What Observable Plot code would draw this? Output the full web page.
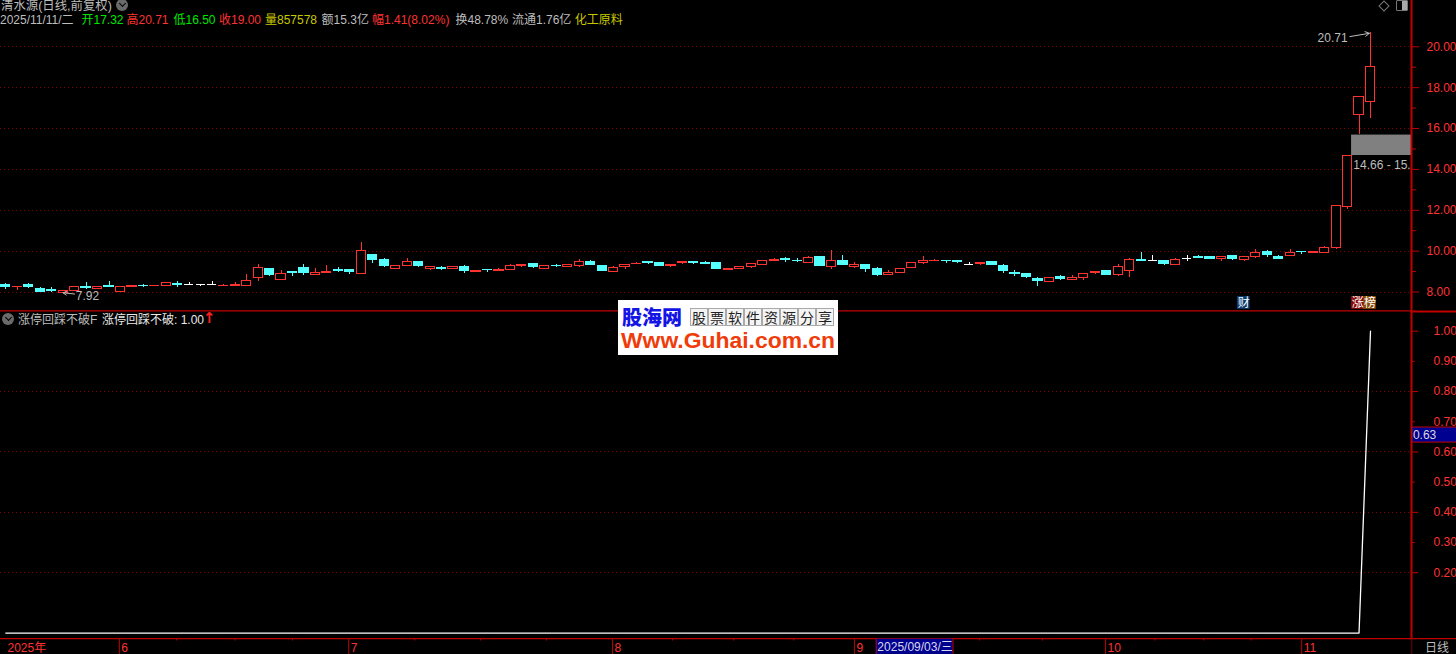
<!DOCTYPE html>
<html><head><meta charset="utf-8">
<script src="https://cdn.jsdelivr.net/npm/d3@7"></script>
<script src="https://cdn.jsdelivr.net/npm/@observablehq/plot@0.6"></script>
<style>
html,body{margin:0;padding:0;background:#000;overflow:hidden}
#stage{position:relative;width:1456px;height:654px;background:#000;overflow:hidden;font-family:"Liberation Sans","Noto Sans CJK SC",sans-serif;font-size:12px}
#stage svg{position:absolute;left:0;display:block}
.t{position:absolute;white-space:pre;line-height:14px;height:14px;font-family:"Liberation Sans","Noto Sans CJK SC",sans-serif;font-size:12px}
.chev{position:absolute;width:12px;height:12px;border-radius:50%;background:#6a6a6a}
.chev:after{content:"";position:absolute;left:3.5px;top:2px;width:4px;height:4px;border-right:1.5px solid #000;border-bottom:1.5px solid #000;transform:rotate(45deg)}
#wm{position:absolute;left:618px;top:300px;width:220px;height:55px;background:#fff;overflow:hidden}
#wm .a{position:absolute;left:4px;top:6px;font:900 20px/21px "Noto Sans CJK SC";color:#1414e6;letter-spacing:0}
#wm .b{position:absolute;left:72px;top:8px;display:flex}
#wm .b span{box-sizing:border-box;width:18px;height:18px;border:1px solid #aaa;margin-right:0;font:14px/16px "Noto Sans CJK SC";color:#222;text-align:center;background:#f4f4f4;overflow:visible}
#wm .c{position:absolute;left:3px;top:29px;font:bold 22.9px/23px "Liberation Sans";color:#f03c0a;letter-spacing:0}
</style></head><body><div id="stage"></div>
<script>
const opens=[8.33,8.23,8.34,8.16,8.11,7.94,8.03,8.23,8.13,8.31,7.98,8.23,8.31,8.29,8.29,8.39,8.37,8.37,8.39,8.29,8.29,8.29,8.68,9.12,8.57,8.98,9.19,8.81,8.91,9.06,9.07,8.88,9.82,9.58,9.15,9.27,9.46,9.15,9.17,9.15,9.22,8.96,9.07,9.01,9.06,9.25,9.38,9.15,9.28,9.20,9.25,9.48,9.28,8.96,9.20,9.35,9.46,9.41,9.25,9.40,9.46,9.41,9.41,9.06,9.15,9.20,9.30,9.50,9.63,9.54,9.41,9.72,9.22,9.51,9.22,9.32,9.14,8.81,8.91,9.17,9.40,9.50,9.53,9.51,9.37,9.35,9.46,9.27,8.94,8.89,8.65,8.49,8.72,8.59,8.69,8.91,9.04,8.82,9.03,9.57,9.52,9.52,9.32,9.63,9.73,9.73,9.60,9.76,9.55,9.70,9.96,9.73,9.75,9.97,9.89,9.89,10.14,12.15,16.68,17.32];
const closes=[8.23,8.26,8.23,7.98,8.03,8.05,8.23,8.20,8.24,8.23,8.24,8.29,8.28,8.31,8.44,8.36,8.37,8.37,8.39,8.31,8.36,8.54,9.17,8.81,8.88,8.91,8.91,8.94,8.98,9.04,8.98,10.00,9.59,9.25,9.27,9.46,9.25,9.24,9.14,9.24,9.01,9.04,9.06,9.09,9.27,9.33,9.20,9.27,9.27,9.32,9.48,9.33,9.01,9.17,9.32,9.38,9.40,9.28,9.33,9.46,9.40,9.35,9.15,9.14,9.24,9.37,9.51,9.58,9.59,9.51,9.67,9.25,9.51,9.30,9.32,9.11,8.81,8.93,9.12,9.41,9.51,9.53,9.50,9.45,9.37,9.41,9.30,9.01,8.88,8.72,8.54,8.68,8.62,8.68,8.86,9.00,8.85,9.22,9.57,9.52,9.52,9.35,9.57,9.63,9.68,9.63,9.71,9.60,9.71,9.91,9.79,9.63,9.91,9.94,9.97,10.15,12.23,14.66,17.56,19.00];
const highs=[8.41,8.26,8.42,8.24,8.24,8.05,8.23,8.46,8.24,8.49,8.29,8.29,8.36,8.31,8.44,8.50,8.46,8.37,8.49,8.39,8.46,8.85,9.37,9.12,9.07,8.98,9.37,9.17,9.28,9.20,9.07,10.42,9.85,9.63,9.27,9.63,9.46,9.24,9.24,9.24,9.28,9.04,9.07,9.14,9.35,9.33,9.38,9.27,9.35,9.32,9.58,9.53,9.28,9.25,9.32,9.43,9.46,9.41,9.33,9.46,9.46,9.48,9.41,9.17,9.24,9.37,9.51,9.63,9.67,9.63,9.72,9.72,10.02,9.77,9.43,9.32,9.19,9.04,9.12,9.41,9.72,9.58,9.53,9.51,9.46,9.41,9.46,9.33,9.04,8.89,8.70,8.68,8.80,8.80,8.86,9.00,9.04,9.37,9.65,9.92,9.78,9.52,9.66,9.78,9.78,9.73,9.71,9.76,9.71,10.10,10.01,9.81,10.06,9.97,9.97,10.25,12.23,14.66,17.56,20.71];
const lows=[8.13,8.08,8.18,7.98,7.98,7.92,8.03,8.10,8.10,8.20,7.98,8.23,8.23,8.29,8.29,8.24,8.33,8.26,8.33,8.29,8.29,8.29,8.52,8.76,8.57,8.76,8.81,8.81,8.91,8.93,8.85,8.88,9.40,9.20,9.15,9.27,9.20,9.04,9.04,9.15,8.89,8.96,8.96,9.01,9.06,9.20,9.14,9.15,9.22,9.20,9.19,9.28,9.01,8.96,9.09,9.35,9.33,9.28,9.20,9.35,9.33,9.35,9.15,9.06,9.15,9.15,9.30,9.50,9.45,9.45,9.41,9.25,9.11,9.30,9.15,8.96,8.76,8.81,8.91,9.17,9.35,9.50,9.40,9.40,9.35,9.30,9.30,8.91,8.76,8.67,8.28,8.49,8.57,8.59,8.57,8.86,8.82,8.77,8.70,9.48,9.52,9.30,9.32,9.48,9.63,9.58,9.48,9.55,9.50,9.65,9.68,9.58,9.75,9.84,9.89,9.89,10.10,12.05,15.72,16.50];
const signal=[0,0,0,0,0,0,0,0,0,0,0,0,0,0,0,0,0,0,0,0,0,0,0,0,0,0,0,0,0,0,0,0,0,0,0,0,0,0,0,0,0,0,0,0,0,0,0,0,0,0,0,0,0,0,0,0,0,0,0,0,0,0,0,0,0,0,0,0,0,0,0,0,0,0,0,0,0,0,0,0,0,0,0,0,0,0,0,0,0,0,0,0,0,0,0,0,0,0,0,0,0,0,0,0,0,0,0,0,0,0,0,0,0,0,0,0,0,0,0,1];
const priceMajor=[8,10,12,14,16,18,20];
const priceMinor=[9,11,13,15,17,19];
const sigGrid=[0.2,0.4,0.6,0.8];
const sigMajor=[0.2,0.4,0.6,0.8,1.0];
const sigMinor=[0.3,0.5,0.7,0.9];
const sigLabels=[0.2,0.3,0.4,0.5,0.6,0.7,0.8,0.9,1.0];
const monthTicks=[-0.03,9.9,29.9,52.9,74,95.9,113];
const monthLabels=["2025年","6","7","8","9","10","11"];
const minorTicks=[14.9,20,25,35.65,41.4,47.15,58.14,63.46,68.7,84.9,90.4,100.2,104.45,108.6];
const zone={x1:117.35,x2:122.6,y1:14.68,y2:15.68};
const zoneLabel="14.66 - 15.";
const headerTop="清水源(日线,前复权)";
const headerItems=[
 ["2025/11/11/二",0,"#bdbdbd"],["开",81.5,"#00e600"],["17.32",93.5,"#00e600"],["高",126.5,"#ff3232"],["20.71",138.5,"#ff3232"],
 ["低",173.5,"#00e600"],["16.50",185.5,"#00e600"],["收",219,"#ff3232"],["19.00",231,"#ff3232"],["量",265,"#c8c800"],["857578",277,"#c8c800"],
 ["额",321.6,"#bdbdbd"],["15.3亿",333.6,"#bdbdbd"],["幅",372,"#ff3232"],["1.41(8.02%)",384,"#ff3232"],["换",455.5,"#bdbdbd"],["48.78%",467.5,"#bdbdbd"],
 ["流通",512,"#bdbdbd"],["1.76亿",536,"#bdbdbd"],["化工原料",574.7,"#c8c800"]];

const candles=opens.map((o,i)=>({i,o,c:closes[i],h:highs[i],l:lows[i],col:closes[i]>o?"#ff3232":closes[i]<o?"#54ffff":"#ffffff"}));
const series=signal.map((v,i)=>({i,v}));
const axisRed="#c00000", labelRed="#ff3232", grid="#800000", ink="#bdbdbd";
const xScale={type:"linear",domain:[0,119],range:[5.3,1370],axis:null};
const font='"Liberation Sans","Noto Sans CJK SC",sans-serif';

const upper=Plot.plot({
  width:1456,height:310,marginTop:0,marginBottom:0,marginLeft:0,marginRight:45,
  style:{background:"#000",fontFamily:font,fontSize:"12px",overflow:"hidden"},
  x:xScale,y:{domain:[8,20],range:[291.5,46.3],label:null},
  marks:[
    Plot.gridY(priceMajor,{stroke:grid,strokeOpacity:1,strokeDasharray:"1,3",shapeRendering:"crispEdges"}),
    Plot.ruleX(candles,{x:"i",y1:"l",y2:"h",stroke:"col",strokeWidth:1,shapeRendering:"crispEdges"}),
    Plot.rect(candles.filter(d=>d.c>d.o),{x1:d=>d.i-0.4,x2:d=>d.i+0.4,y1:"o",y2:"c",fill:"#000",stroke:"col",strokeWidth:1,shapeRendering:"crispEdges"}),
    Plot.rect(candles.filter(d=>d.c<d.o),{x1:d=>d.i-0.4,x2:d=>d.i+0.4,y1:"o",y2:"c",fill:"col",stroke:"col",strokeWidth:1,shapeRendering:"crispEdges"}),
    Plot.ruleY(candles.filter(d=>d.c===d.o),{y:"c",x1:d=>d.i-0.4,x2:d=>d.i+0.4,stroke:"col",strokeWidth:1,shapeRendering:"crispEdges"}),
    Plot.rect([zone],{x1:"x1",x2:"x2",y1:"y1",y2:"y2",fill:"#808080"}),
    Plot.text([zoneLabel],{x:117.5,y:14.2,text:d=>d,textAnchor:"start",fill:ink,fontSize:12}),
    Plot.text(["20.71"],{x:117,y:20.43,text:d=>d,textAnchor:"end",fill:ink,fontSize:12}),
    Plot.arrow([{x1:117.2,y1:20.5,x2:118.9,y2:20.66}],{x1:"x1",y1:"y1",x2:"x2",y2:"y2",bend:0,stroke:ink,strokeWidth:1,headLength:7}),
    Plot.text(["7.92"],{x:6.1,y:7.82,text:d=>d,textAnchor:"start",fill:ink,fontSize:12}),
    Plot.arrow([{x1:6,y1:7.9,x2:5,y2:7.96}],{x1:"x1",y1:"y1",x2:"x2",y2:"y2",bend:0,stroke:ink,strokeWidth:1,headLength:7}),
    Plot.rect([{a:107.4,b:108.5,f:"#0a3a6e"},{a:117.35,b:118.4,f:"#8a0a0a"},{a:118.4,b:119.5,f:"#8a4a0a"}],{x1:"a",x2:"b",y1:7.78,y2:7.15,fill:"f"}),
    Plot.text([{x:107.95,s:"财"},{x:117.88,s:"涨"},{x:118.95,s:"榜"}],{x:"x",y:7.46,text:"s",fill:"#fff",fontSize:12,fontFamily:"Noto Sans CJK SC"}),
    Plot.axisY({anchor:"right",ticks:priceMajor,tickSize:7,tickPadding:8,tickFormat:d=>d.toFixed(2),stroke:axisRed,fill:labelRed,label:null,fontSize:12,textAnchor:"start"}),
    Plot.ruleY(priceMinor,{x1:122.6,x2:123,stroke:axisRed}),
    Plot.frame({anchor:"right",stroke:axisRed,strokeWidth:2})
  ]
});

const axisVal=-0.018, botVal=-0.0705;
const lower=Plot.plot({
  width:1456,height:344,marginTop:0,marginBottom:16,marginLeft:0,marginRight:45,
  style:{background:"transparent",fontFamily:font,fontSize:"12px",overflow:"hidden"},
  x:xScale,y:{domain:[0,1],range:[322.6,20.7],label:null},
  marks:[
    Plot.gridY(sigGrid,{stroke:grid,strokeOpacity:1,strokeDasharray:"1,3",shapeRendering:"crispEdges"}),
    Plot.line(series,{x:"i",y:"v",stroke:"#fff",strokeWidth:1.3,curve:"linear"}),
    Plot.axisY({anchor:"right",ticks:sigLabels,tickSize:0,tickPadding:22,tickFormat:d=>d.toFixed(2),stroke:"none",fill:labelRed,label:null,fontSize:12,textAnchor:"start"}),
    Plot.ruleY(sigMajor,{x1:122.6,x2:123.2,stroke:axisRed}),
    Plot.ruleY(sigMinor,{x1:122.6,x2:122.9,stroke:axisRed}),
    Plot.rect([{a:122.63,b:126.6}],{x1:"a",x2:"b",y1:0.631,y2:0.681,fill:"#000090",stroke:axisRed,strokeWidth:1}),
    Plot.text(["0.63"],{x:122.7,y:0.656,text:d=>d,textAnchor:"start",fill:"#d8d8d8",fontSize:12}),
    Plot.frame({anchor:"right",stroke:axisRed,strokeWidth:2}),
    Plot.ruleY([1.067],{x1:-0.5,x2:122.6,stroke:axisRed,strokeWidth:1.2}),
    Plot.ruleY([1.065],{x1:122.6,x2:126.6,stroke:axisRed,strokeWidth:2}),
    Plot.ruleY([axisVal],{x1:-0.5,x2:126.6,stroke:axisRed,strokeWidth:1.2}),
    Plot.ruleX([122.6],{y1:axisVal,y2:botVal,stroke:"#7a0000",strokeWidth:1}),
    Plot.ruleX(monthTicks.slice(1),{y1:axisVal,y2:botVal,stroke:axisRed,strokeWidth:1}),
    Plot.ruleX(minorTicks,{y1:axisVal,y2:axisVal-0.008,stroke:axisRed,strokeWidth:1}),
    Plot.text(monthLabels,{x:(d,i)=>monthTicks[i],y:-0.049,text:d=>d,textAnchor:"start",dx:2,fill:labelRed,fontSize:12}),
    Plot.rect([{a:75.9,b:82.6}],{x1:"a",x2:"b",y1:axisVal-0.002,y2:botVal,fill:"#000090"}),
    Plot.ruleX([75.9,82.6],{y1:axisVal,y2:botVal,stroke:axisRed}),
    Plot.text(["2025/09/03/三"],{x:76,y:-0.046,text:d=>d,textAnchor:"start",fill:"#d8d8e8",fontSize:12}),
    Plot.text(["日线"],{x:123.75,y:-0.049,text:d=>d,textAnchor:"start",fill:ink,fontSize:12,fontFamily:"Noto Sans CJK SC"})
  ]
});

const stage=document.getElementById("stage");
upper.style.top="0px";lower.style.top="310px";
stage.append(upper,lower);

function put(txt,x,y,color,extra){const e=document.createElement("div");e.className="t";e.textContent=txt;e.style.left=x+"px";e.style.top=y+"px";e.style.color=color;if(extra)Object.assign(e.style,extra);stage.append(e);return e;}
put(headerTop,1,0,ink,{fontSize:"12.4px",lineHeight:"12px",height:"12px"});
for(const [t,x,c] of headerItems) put(t,x,13,c);
const c1=document.createElement("div");c1.className="chev";c1.style.left="116px";c1.style.top="-1px";stage.append(c1);
const c2=document.createElement("div");c2.className="chev";c2.style.left="2px";c2.style.top="313px";stage.append(c2);
put("涨停回踩不破F",18,313,ink);
put("涨停回踩不破: 1.00",102,313,"#e8e8e8");
put("↑",203,311,"#ff2020",{fontFamily:"DejaVu Sans",fontWeight:"bold",fontSize:"15px"});
const dia=document.createElement("div");Object.assign(dia.style,{position:"absolute",left:"1380px",top:"2px",width:"6px",height:"6px",border:"1px solid #777",transform:"rotate(45deg)"});stage.append(dia);
const bx=document.createElement("div");Object.assign(bx.style,{position:"absolute",left:"1396px",top:"0px",width:"10px",height:"9px",border:"1px solid #777",borderRadius:"1px",background:"linear-gradient(90deg,#000 50%,#aaa 50%)"});stage.append(bx);

const wm=document.createElement("div");wm.id="wm";
wm.innerHTML='<div class="a">股海网</div><div class="b">'+[..."股票软件资源分享"].map(c=>"<span>"+c+"</span>").join("")+'</div><div class="c">Www.Guhai.com.cn</div>';
stage.append(wm);
</script></body></html>
